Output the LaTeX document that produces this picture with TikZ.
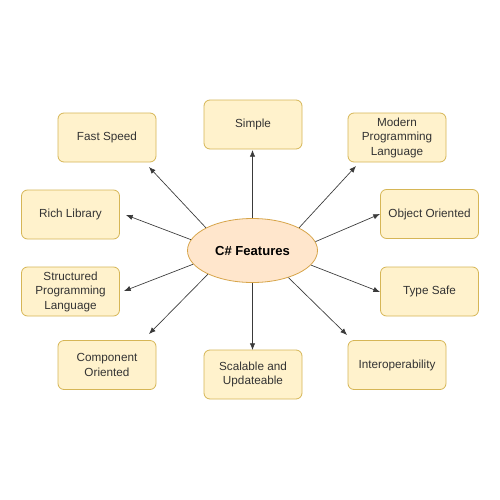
\documentclass[tikz,border=0pt]{standalone}
\usepackage{fontspec}
\setmainfont{Liberation Sans}
\usetikzlibrary{arrows.meta,shapes.geometric}
\definecolor{boxfill}{HTML}{FFF2CC}
\definecolor{boxline}{HTML}{D6B656}
\definecolor{elfill}{HTML}{FFE6CC}
\definecolor{elline}{HTML}{D7A54A}
\definecolor{txt}{HTML}{333333}
\definecolor{arr}{HTML}{3A3A3A}
\tikzset{
  feat/.style={draw=boxline, fill=boxfill, rounded corners=4.5pt, line width=0.6pt,
    minimum width=73.5pt, minimum height=36.75pt, inner sep=0pt, align=center,
    font=\fontsize{8.8}{10.9}\selectfont, text=txt},
  hub/.style={ellipse, draw=elline, fill=elfill, line width=0.6pt,
    minimum width=97.5pt, minimum height=48pt, inner sep=0pt,
    font=\fontsize{9.8}{12}\selectfont\bfseries, text=black},
  link/.style={draw=arr, line width=0.5pt, -{Latex[length=5pt,width=4pt]}}
}
\begin{document}
\begin{tikzpicture}[x=0.75pt,y=-0.75pt]
\useasboundingbox (0,0) rectangle (500,500);
\fill[white] (0,0) rectangle (500,500);
\node[hub] (c) at (252.5,250.5) {C\# Features};
\node[feat] (fs) at (107,137.5) {Fast Speed};
\node[feat] (si) at (253,124.5) {Simple};
\node[feat] (mp) at (397,137.5) {Modern\\Programming\\Language};
\node[feat] (rl) at (70.5,214.5) {Rich Library};
\node[feat] (oo) at (429.5,214) {Object Oriented};
\node[feat] (sp) at (70.5,291.5) {Structured\\Programming\\Language};
\node[feat] (ts) at (429.5,291.5) {Type Safe};
\node[feat] (co) at (107,365) {Component\\Oriented};
\node[feat] (su) at (253,374.5) {Scalable and\\Updateable};
\node[feat] (io) at (397,365) {Interoperability};
\coordinate (tfs) at (149,167);
\coordinate (trl) at (126,215);
\coordinate (tsi) at (252.5,150);
\coordinate (tmp) at (356,166);
\coordinate (too) at (380,214);
\coordinate (tsp) at (124,291);
\coordinate (tco) at (149,334);
\coordinate (tsu) at (252.5,350);
\coordinate (tts) at (380,292);
\coordinate (tio) at (347,335);
\draw[link] (c.154.6) -- (tfs);
\draw[link] (c.170.8) -- (trl);
\draw[link] (c.90) -- (tsi);
\draw[link] (c.26.8) -- (tmp);
\draw[link] (c.8.6) -- (too);
\draw[link] (c.193.5) -- (tsp);
\draw[link] (c.208.8) -- (tco);
\draw[link] (c.270) -- (tsu);
\draw[link] (c.346.3) -- (tts);
\draw[link] (c.323.5) -- (tio);
\end{tikzpicture}
\end{document}
